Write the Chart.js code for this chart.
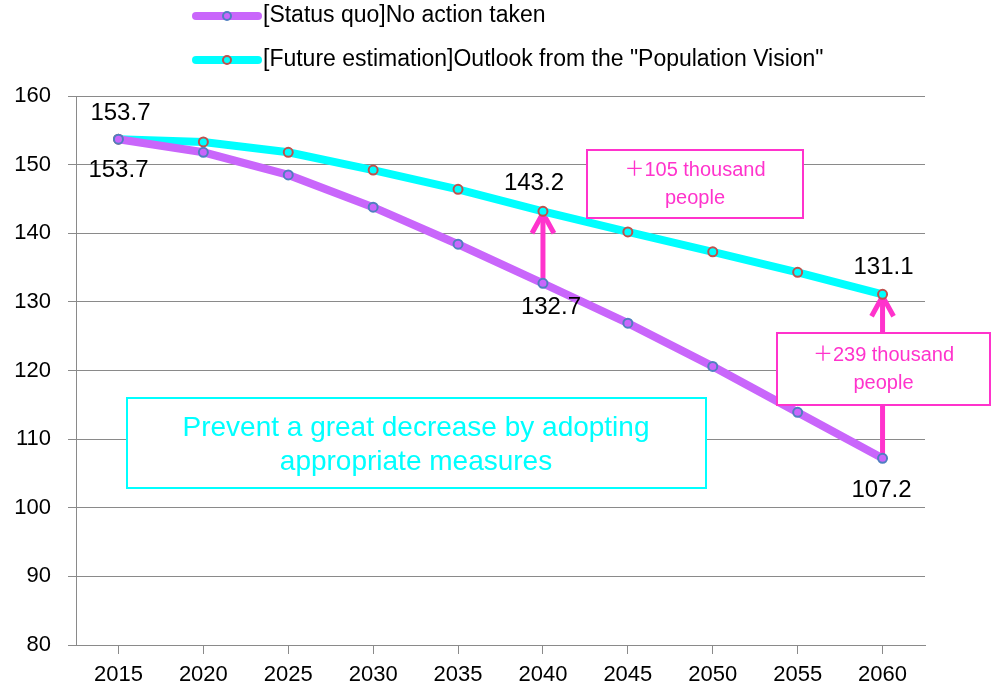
<!DOCTYPE html>
<html>
<head>
<meta charset="utf-8">
<script src="https://cdn.jsdelivr.net/npm/chart.js@4.4.1/dist/chart.umd.min.js"></script>
<style>
  html, body { margin: 0; padding: 0; background: #fff; }
  #wrap { width: 1002px; height: 685px; position: relative; }
</style>
</head>
<body>
<div id="wrap"><canvas id="c" width="1002" height="685"></canvas></div>
<script>
// ---- Data ----
const years = ['2015','2020','2025','2030','2035','2040','2045','2050','2055','2060'];
const statusQuo = [153.7, 151.8, 148.5, 143.8, 138.4, 132.7, 126.9, 120.6, 113.9, 107.2];
const vision    = [153.7, 153.3, 151.8, 149.2, 146.4, 143.2, 140.2, 137.3, 134.3, 131.1];
const seriesNames = ['[Status quo]No action taken', '[Future estimation]Outlook from the "Population Vision"'];
const labelledIdx = [0, 5, 9];
const yTicks = { min: 80, max: 160, step: 10 };
const gapNotes = [
  { idx: 5, lines: ['＋105 thousand', 'people'] },
  { idx: 9, lines: ['＋239 thousand', 'people'] }
];
const mainNote = ['Prevent a great decrease by adopting', 'appropriate measures'];

const PURPLE = '#c966fb';
const CYAN = '#00ffff';
const PINK = '#ff33cc';
const GRID = '#8a8a8a';
const FONT = '"Liberation Sans", Arial, sans-serif';

const annotate = {
  id: 'annotate',
  beforeDatasetsDraw(chart) {
    const ctx = chart.ctx, x = chart.scales.x, y = chart.scales.y;
    ctx.save();
    ctx.strokeStyle = PINK;
    ctx.lineWidth = 5;
    ctx.lineCap = 'butt';
    gapNotes.forEach(n => {
      const px = x.getPixelForValue(n.idx);
      const yb = y.getPixelForValue(statusQuo[n.idx]);
      const yt = y.getPixelForValue(vision[n.idx]);
      ctx.beginPath();
      ctx.moveTo(px, yb - 2);
      ctx.lineTo(px, yt + 2);
      ctx.stroke();
      ctx.beginPath();
      ctx.moveTo(px - 11, yt + 22);
      ctx.lineTo(px, yt + 2);
      ctx.lineTo(px + 11, yt + 22);
      ctx.stroke();
    });
    ctx.restore();
  },
  afterDatasetsDraw(chart) {
    const ctx = chart.ctx, x = chart.scales.x, y = chart.scales.y;
    ctx.save();
    // data labels
    ctx.fillStyle = '#000';
    ctx.font = '24px ' + FONT;
    ctx.textAlign = 'center';
    ctx.textBaseline = 'middle';
    const offs = { 0: [[2, -26], [0, 31]], 5: [[-9, -28], [8, 24]], 9: [[1, -27], [-1, 32]] };
    labelledIdx.forEach(i => {
      const px = x.getPixelForValue(i);
      const o = offs[i];
      ctx.fillText(vision[i].toFixed(1), px + o[0][0], y.getPixelForValue(vision[i]) + o[0][1]);
      ctx.fillText(statusQuo[i].toFixed(1), px + o[1][0], y.getPixelForValue(statusQuo[i]) + o[1][1]);
    });
    // pink boxes
    const boxes = [[587, 150, 216, 68], [777, 333, 213, 72]];
    gapNotes.forEach((n, k) => {
      const b = boxes[k];
      ctx.fillStyle = '#fff';
      ctx.fillRect(b[0], b[1], b[2], b[3]);
      ctx.strokeStyle = PINK;
      ctx.lineWidth = 2;
      ctx.strokeRect(b[0], b[1], b[2], b[3]);
      ctx.fillStyle = PINK;
      ctx.font = '20px "Liberation Sans", "Noto Sans CJK JP", sans-serif';
      const cx = b[0] + b[2] / 2, cy = b[1] + b[3] / 2;
      ctx.fillText(n.lines[0], cx, cy - 14);
      ctx.fillText(n.lines[1], cx, cy + 14);
    });
    // cyan box
    ctx.fillStyle = '#fff';
    ctx.fillRect(127, 398, 579, 90);
    ctx.strokeStyle = CYAN;
    ctx.lineWidth = 2;
    ctx.strokeRect(127, 398, 579, 90);
    ctx.fillStyle = CYAN;
    ctx.font = '28px ' + FONT;
    ctx.fillText(mainNote[0], 416, 428);
    ctx.fillText(mainNote[1], 416, 462);
    ctx.restore();
  },
  afterDraw(chart) {
    const ctx = chart.ctx;
    const ds = chart.data.datasets;
    ctx.save();
    [16, 60].forEach((ly, k) => {
      ctx.strokeStyle = ds[k].borderColor;
      ctx.lineWidth = 8;
      ctx.lineCap = 'round';
      ctx.beginPath();
      ctx.moveTo(196, ly);
      ctx.lineTo(258, ly);
      ctx.stroke();
      ctx.beginPath();
      ctx.arc(227, ly, 4, 0, Math.PI * 2);
      ctx.fillStyle = ds[k].pointBackgroundColor;
      ctx.fill();
      ctx.lineWidth = 2;
      ctx.strokeStyle = ds[k].pointBorderColor;
      ctx.stroke();
      ctx.fillStyle = '#000';
      ctx.font = '23px ' + FONT;
      ctx.textAlign = 'left';
      ctx.textBaseline = 'middle';
      ctx.fillText(seriesNames[k], 263, ly);
    });
    ctx.restore();
  }
};

new Chart(document.getElementById('c'), {
  type: 'line',
  data: {
    labels: years,
    datasets: [
      {
        label: seriesNames[0], data: statusQuo,
        borderColor: PURPLE, borderWidth: 8, borderCapStyle: 'round', tension: 0,
        pointRadius: 4.5, pointBorderWidth: 2,
        pointBackgroundColor: PURPLE, pointBorderColor: '#4f7fc0'
      },
      {
        label: seriesNames[1], data: vision,
        borderColor: CYAN, borderWidth: 8, borderCapStyle: 'round', tension: 0,
        pointRadius: 4.5, pointBorderWidth: 2,
        pointBackgroundColor: CYAN, pointBorderColor: '#c0504d'
      }
    ]
  },
  options: {
    responsive: false,
    animation: false,
    devicePixelRatio: 1,
    layout: { padding: { top: 96, right: 77, left: 0, bottom: 0 } },
    plugins: { legend: { display: false }, tooltip: { enabled: false } },
    scales: {
      x: {
        offset: true,
        grid: { display: true, drawOnChartArea: false, tickLength: 9, color: GRID },
        border: { color: GRID },
        ticks: { color: '#000', font: { family: FONT, size: 22 }, padding: 8, maxRotation: 0 },
        afterFit(s) { s.height = 40; }
      },
      y: {
        min: yTicks.min, max: yTicks.max,
        grid: { color: GRID, tickLength: 8 },
        border: { color: GRID },
        ticks: { stepSize: yTicks.step, color: '#000', font: { family: FONT, size: 22 }, padding: 17 },
        afterFit(s) { s.width = 76; }
      }
    }
  },
  plugins: [annotate]
});
</script>
</body>
</html>
